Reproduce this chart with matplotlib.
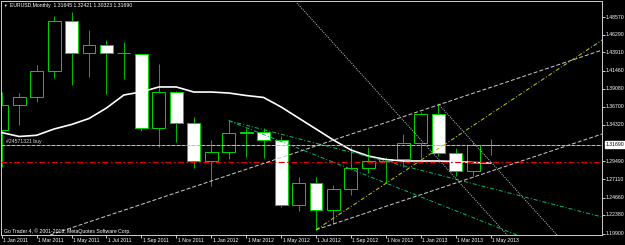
import numpy as np
import matplotlib.pyplot as plt

plt.rcParams['font.family'] = ['Liberation Sans', 'DejaVu Sans']

# monthly EURUSD bars, Jan 2011 .. May 2013
months = ['Jan 2011', 'Feb 2011', 'Mar 2011', 'Apr 2011', 'May 2011', 'Jun 2011', 'Jul 2011',
          'Aug 2011', 'Sep 2011', 'Oct 2011', 'Nov 2011', 'Dec 2011', 'Jan 2012', 'Feb 2012',
          'Mar 2012', 'Apr 2012', 'May 2012', 'Jun 2012', 'Jul 2012', 'Aug 2012', 'Sep 2012',
          'Oct 2012', 'Nov 2012', 'Dec 2012', 'Jan 2013', 'Feb 2013', 'Mar 2013', 'Apr 2013',
          'May 2013']
opens = [1.3363, 1.3696, 1.3806, 1.4150, 1.4806, 1.4390, 1.4485, 1.4390, 1.4365, 1.3386,
         1.3866, 1.3453, 1.2958, 1.3079, 1.3320, 1.3339, 1.3235, 1.2366, 1.2663, 1.2308,
         1.2576, 1.2859, 1.2955, 1.2982, 1.3193, 1.3580, 1.3057, 1.2817, 1.31645]
highs = [1.3861, 1.3850, 1.4225, 1.4870, 1.4923, 1.4690, 1.4556, 1.4534, 1.4375, 1.4235,
         1.3875, 1.3540, 1.3234, 1.3487, 1.3385, 1.3384, 1.3280, 1.2747, 1.2747, 1.2639,
         1.3140, 1.3140, 1.3010, 1.3305, 1.3598, 1.3711, 1.3120, 1.3203, 1.32421]
lows = [1.2870, 1.3425, 1.3730, 1.4050, 1.3960, 1.4062, 1.3837, 1.4040, 1.3355, 1.3145,
        1.3205, 1.2860, 1.2624, 1.2975, 1.3004, 1.2996, 1.2340, 1.2285, 1.2042, 1.2125,
        1.2505, 1.2797, 1.2661, 1.2872, 1.2998, 1.3020, 1.2748, 1.2748, 1.30323]
closes = [1.3696, 1.3806, 1.4150, 1.4806, 1.4390, 1.4485, 1.4390, 1.4380, 1.3386, 1.3866,
          1.3453, 1.2958, 1.3079, 1.3320, 1.3339, 1.3235, 1.2366, 1.2663, 1.2308, 1.2576,
          1.2859, 1.2955, 1.2982, 1.3193, 1.3580, 1.3057, 1.2817, 1.3165, 1.31690]
ma = [1.3330, 1.3278, 1.3294, 1.3377, 1.3437, 1.3516, 1.3655, 1.3828, 1.3868, 1.3934,
      1.3934, 1.3867, 1.3867, 1.3854, 1.3821, 1.3795, 1.3669, 1.3523, 1.3377, 1.3231,
      1.3099, 1.3019, 1.2973, 1.2953, 1.2953, 1.2953, 1.2947, 1.2933, 1.2927]

price_ticks = [1.48570, 1.46290, 1.43910, 1.41460, 1.39080, 1.36700, 1.34320,
               1.29490, 1.27110, 1.24660, 1.22380, 1.19900]
bid = 1.31690
stop_level = 1.2940

# chart objects: (bar index, price) anchor pairs
upper_chan = [(2.77, 1.1973), (34.4, 1.4424)]
lower_chan = [(18.0, 1.2042), (34.4, 1.3312)]
yellow_line = [(18.0, 1.2042), (34.4, 1.4558)]
green_fan1 = [(13.0, 1.3487), (29.5, 1.1973)]
green_fan2 = [(13.0, 1.3487), (34.4, 1.2211)]
dot_line1 = [(16.91, 1.5047), (28.94, 1.1973)]
dot_line2 = [(25.0, 1.3711), (31.8, 1.1973)]

W, H = 625, 245
px = 0.72  # one pixel in points
fig = plt.figure(figsize=(W / 100, H / 100), dpi=100, facecolor='black')
ax = fig.add_axes([1.5 / W, 10 / H, 600.5 / W, 234 / H], facecolor='black')

idx = np.arange(len(months))
o = np.array(opens)
c = np.array(closes)
bull = c >= o

# candles
ax.vlines(idx, lows, highs, color='#00b400', lw=px, zorder=2)
ax.bar(idx, np.maximum(np.abs(c - o), 0.0004), bottom=np.minimum(o, c), width=0.74,
       color=np.where(bull, 'black', 'white'), edgecolor='#00d200', linewidth=px, zorder=2)

# moving average
ax.plot(idx, ma, color='white', lw=1.2, zorder=3)

# horizontal trade lines
ax.axhline(bid, color='#a8c8a8', lw=px, ls=(0, (4, 1)), zorder=4)
ax.axhline(stop_level, color='#e00000', lw=px * 1.2, ls=(0, (5, 2, 1.5, 2)), zorder=4)

def seg(pts, **kw):
    (x1, y1), (x2, y2) = pts
    ax.plot([x1, x2], [y1, y2], zorder=4, **kw)

seg(upper_chan, color='#c8c8c8', lw=px, ls=(0, (4, 2)))
seg(lower_chan, color='#c8c8c8', lw=px, ls=(0, (4, 2)))
seg(yellow_line, color='#c8c800', lw=px, ls=(0, (4, 2, 1, 2)))
seg(green_fan1, color='#00b868', lw=px, ls=(0, (4, 2, 1, 2)))
seg(green_fan2, color='#00b868', lw=px, ls=(0, (4, 2, 1, 2)))
seg(dot_line1, color='#c0c0c0', lw=px, ls=(0, (1, 1.2)))
seg(dot_line2, color='#c0c0c0', lw=px, ls=(0, (1, 1.2)))

ax.set_xlim(-0.0115, 34.38)
ax.set_ylim(1.19727, 1.50730)

for s in ax.spines.values():
    s.set_color('#c8c8c8')
    s.set_linewidth(px)

fs = 3.7
ax.set_xticks(idx[::2])
ax.set_yticks(price_ticks)
ax.yaxis.tick_right()
ax.tick_params(colors='#c8c8c8', length=3 * px, width=px, labelbottom=False, labelright=False)

for i in idx[::2]:
    ax.annotate('1 ' + months[i], xy=(i, 0), xycoords=ax.get_xaxis_transform(),
                xytext=(1.5 * px, -5.5 * px), textcoords='offset points',
                ha='left', va='center', fontsize=fs, color='white')
for p in price_ticks:
    ax.annotate('%.5f' % p, xy=(1, p), xycoords=ax.get_yaxis_transform(),
                xytext=(4 * px, 0), textcoords='offset points',
                ha='left', va='center', fontsize=fs, color='white')
ax.annotate('%.5f' % bid, xy=(1, bid), xycoords=ax.get_yaxis_transform(),
            xytext=(4 * px, 0), textcoords='offset points', ha='left', va='center',
            fontsize=fs, color='black',
            bbox=dict(boxstyle='square,pad=0.15', fc='white', ec='white'))

ax.text(5 / 600.5, 1 - (141.5 - 1) / 234, '#24571321 buy', transform=ax.transAxes,
        fontsize=fs, color='#d8d8d8', va='center', ha='left')

fig.text(3 / W, 1 - 5.7 / H, '\u25bc', fontsize=2.6, color='white', va='center')
fig.text(10 / W, 1 - 5.7 / H, 'EURUSD,Monthly  1.31645 1.32421 1.30323 1.31690',
         fontsize=fs, color='white', va='center')
fig.text(4 / W, 1 - 230.7 / H, 'Go Trader 4, \u00a9 2001-2013, MetaQuotes Software Corp.',
         fontsize=fs, color='white', va='center')

fig.savefig('out.png', dpi=100, facecolor='black')
